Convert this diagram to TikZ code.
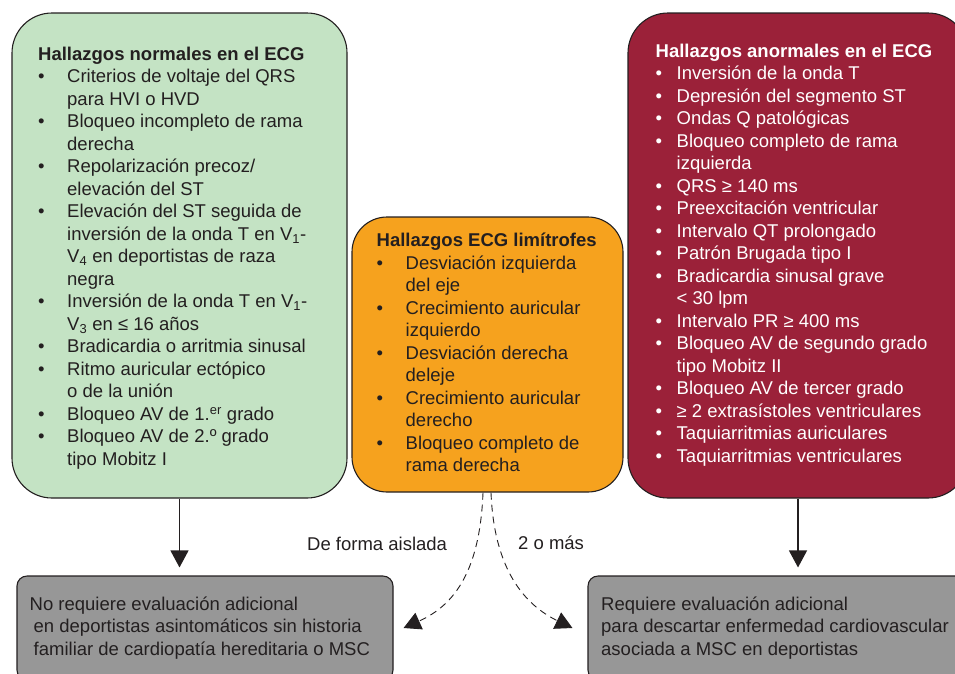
\documentclass[tikz,border=0pt]{standalone}
\usepackage{fontspec}
\setmainfont{Liberation Sans}
\usepackage{xcolor}
\usepackage{tikz}
\usetikzlibrary{arrows.meta}

\definecolor{normalgreen}{HTML}{C4E3C4}
\definecolor{limitorange}{HTML}{F6A21E}
\definecolor{abnormalred}{HTML}{9B2139}
\definecolor{evalgray}{HTML}{979797}
\definecolor{inkgray}{HTML}{231F20}

\newcommand{\ecgbul}[1][29pt]{\makebox[#1][l]{\textbullet}}
\newcommand{\ecgind}[1][29pt]{\hspace*{#1}}

\begin{document}
\begin{tikzpicture}[
    x=1pt, y=-1pt,
    ecgbox/.style={rectangle, draw=inkgray, line width=1.1pt, rounded corners=40pt},
    evalbox/.style={rectangle, draw=inkgray, line width=1.1pt, rounded corners=10pt, fill=evalgray},
    txt/.style={anchor=north west, inner sep=0pt, align=left, text=inkgray,
        font=\fontsize{18.5}{22.5}\selectfont},
    lbl/.style={anchor=base west, inner sep=0pt, text=inkgray, font=\fontsize{18.5}{22.5}\selectfont},
    arrow/.style={-{Triangle[length=17pt,width=18pt]}, line width=1.2pt, draw=inkgray},
    dasharrow/.style={arrow, line width=0.9pt, dash pattern=on 7pt off 5pt}
]
    \clip (0,0) rectangle (955,673);

    % three groups of findings
    \node[ecgbox, fill=normalgreen, minimum width=335pt, minimum height=485pt] (normal) at (179.5,255.5) {};
    \node[ecgbox, fill=limitorange, rounded corners=35pt, minimum width=271pt, minimum height=275pt] (limitrofe) at (487.5,354.5) {};
    \node[ecgbox, fill=abnormalred, minimum width=340pt, minimum height=485pt] (anormal) at (798,255.5) {};

    \node[txt] (normaltxt) at (38,46.7) {\textbf{Hallazgos normales en el ECG}\\
        \ecgbul Criterios de voltaje del QRS\\
        \ecgind para HVI o HVD\\
        \ecgbul Bloqueo incompleto de rama\\
        \ecgind derecha\\
        \ecgbul Repolarización precoz/\\
        \ecgind elevación del ST\\
        \ecgbul Elevación del ST seguida de\\
        \ecgind inversión de la onda T en V\textsubscript{1}-\\
        \ecgind V\textsubscript{4} en deportistas de raza\\
        \ecgind negra\\
        \ecgbul Inversión de la onda T en V\textsubscript{1}-\\
        \ecgind V\textsubscript{3} en ≤ 16 años\\
        \ecgbul Bradicardia o arritmia sinusal\\
        \ecgbul Ritmo auricular ectópico\\
        \ecgind o de la unión\\
        \ecgbul Bloqueo AV de 1.\textsuperscript{er} grado\\
        \ecgbul Bloqueo AV de 2.º grado\\
        \ecgind tipo Mobitz I};

    \node[txt] (limitrofetxt) at (376.5,233) {\textbf{Hallazgos ECG limítrofes}\\
        \ecgbul Desviación izquierda\\
        \ecgind del eje\\
        \ecgbul Crecimiento auricular\\
        \ecgind izquierdo\\
        \ecgbul Desviación derecha\\
        \ecgind deleje\\
        \ecgbul Crecimiento auricular\\
        \ecgind derecho\\
        \ecgbul Bloqueo completo de\\
        \ecgind rama derecha};

    \node[txt, text=white] (anormaltxt) at (655.5,43.4) {\textbf{Hallazgos anormales en el ECG}\\
        \ecgbul[21pt]Inversión de la onda T\\
        \ecgbul[21pt]Depresión del segmento ST\\
        \ecgbul[21pt]Ondas Q patológicas\\
        \ecgbul[21pt]Bloqueo completo de rama\\
        \ecgind[21pt]izquierda\\
        \ecgbul[21pt]QRS ≥ 140 ms\\
        \ecgbul[21pt]Preexcitación ventricular\\
        \ecgbul[21pt]Intervalo QT prolongado\\
        \ecgbul[21pt]Patrón Brugada tipo I\\
        \ecgbul[21pt]Bradicardia sinusal grave\\
        \ecgind[21pt]< 30 lpm\\
        \ecgbul[21pt]Intervalo PR ≥ 400 ms\\
        \ecgbul[21pt]Bloqueo AV de segundo grado\\
        \ecgind[21pt]tipo Mobitz II\\
        \ecgbul[21pt]Bloqueo AV de tercer grado\\
        \ecgbul[21pt]≥ 2 extrasístoles ventriculares\\
        \ecgbul[21pt]Taquiarritmias auriculares\\
        \ecgbul[21pt]Taquiarritmias ventriculares};

    % outcomes
    \node[evalbox, minimum width=376pt, minimum height=104pt] (noeval) at (205,628) {};
    \node[evalbox, minimum width=382pt, minimum height=104pt] (sieval) at (779,628) {};

    \node[txt] (noevaltxt) at (29.5,596.5) {No requiere evaluación adicional\\
        \hspace*{4pt}en deportistas asintomáticos sin historia\\
        \hspace*{4pt}familiar de cardiopatía hereditaria o MSC};
    \node[txt] (sievaltxt) at (601,596.5) {Requiere evaluación adicional\\
        para descartar enfermedad cardiovascular\\
        asociada a MSC en deportistas};

    \draw[arrow, shorten >=8pt] (normal.south) -- (normal.south |- noeval.north);
    \draw[arrow, shorten >=8pt] (anormal.south) -- (anormal.south |- sieval.north);

    \draw[dasharrow] ([xshift=-4.5pt]limitrofe.south) .. controls (480,570) and (455,605) .. ([xshift=10pt]noeval.east);
    \draw[dasharrow] ([xshift=3.5pt]limitrofe.south) .. controls (494,570) and (525,605) .. ([xshift=-15pt]sieval.west);

    \node[lbl] (aislada) at (307,550.7) {De forma aislada};
    \node[lbl] (dosmas) at (518,549) {2 o más};
\end{tikzpicture}
\end{document}
